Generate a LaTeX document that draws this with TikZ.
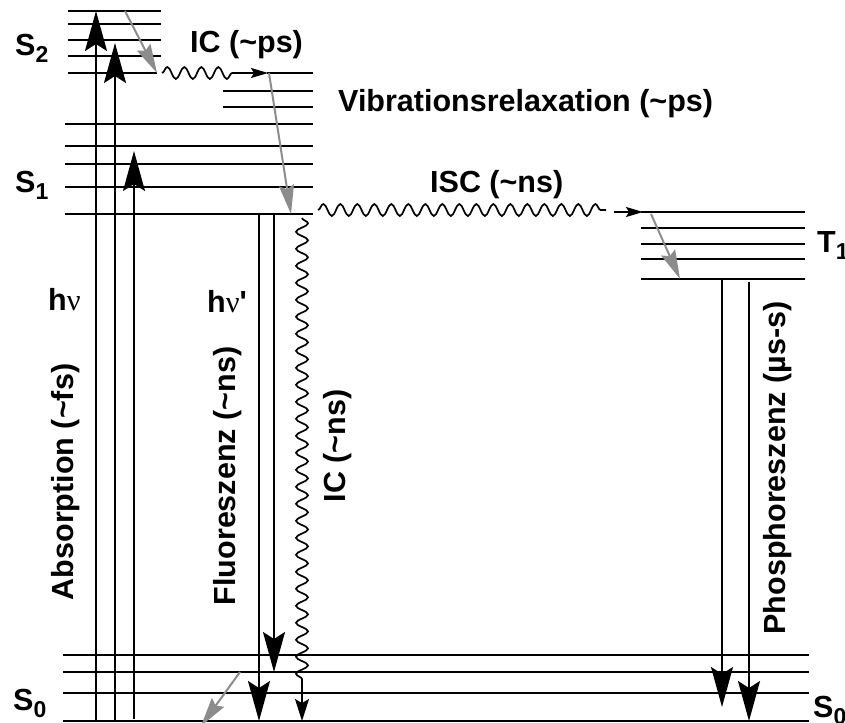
\documentclass[tikz,border=0pt]{standalone}
\usepackage{fontspec}
\setmainfont{Liberation Sans}[Ligatures=TeXOff]
\newfontfamily\grk{Liberation Serif}
\usetikzlibrary{arrows.meta,decorations.pathmorphing}
\definecolor{gr}{HTML}{8C8C8C}
\newcommand\Lvl[2]{#1\raisebox{-7pt}[0pt][0pt]{\fontsize{23}{26}\selectfont #2}}
\begin{document}
\begin{tikzpicture}[x=1pt,y=-1pt,
  lvl/.style={line width=2pt},
  big/.style={line width=1.8pt,-{Stealth[length=40pt,width=22pt,inset=7pt]}},
  small/.style={line width=1.6pt,-{Stealth[length=17pt,width=10pt,inset=3pt]}},
  smallb/.style={line width=1.6pt,-{Stealth[length=22pt,width=14pt,inset=4pt]}},
  gry/.style={draw=gr, line width=2pt, -{Stealth[length=29pt,width=15pt,inset=4pt]}, color=gr},
  wav/.style={line width=1.7pt, decorate, decoration={snake,amplitude=6pt,segment length=17pt}},
  lab/.style={font=\fontsize{30.5}{36}\selectfont\bfseries, inner sep=0pt},
]
\useasboundingbox (0,0) rectangle (845,722);
\clip (0,0) rectangle (845,722);

% ---- S2 levels
\foreach \y in {11,24,40,56} \draw[lvl] (68,\y) -- (161,\y);
\draw[lvl] (68,73) -- (157,73);
% ---- upper vibrational levels of S1
\draw[lvl] (267,73) -- (313,73);
\draw[lvl] (223,91) -- (313,91);
\draw[lvl] (223,107) -- (313,107);
% ---- S1 levels
\foreach \y in {124,146,164,187,214} \draw[lvl] (65,\y) -- (313,\y);
% ---- T1 levels
\foreach \y in {212,228,244,259,279} \draw[lvl] (641,\y) -- (805,\y);
% ---- S0 levels
\foreach \y in {655,672,693,721} \draw[lvl] (63,\y) -- (809,\y);

% ---- named coordinates
\coordinate (a1s) at (96,721);  \coordinate (a1e) at (96,11);
\coordinate (a2s) at (115,721); \coordinate (a2e) at (115,43);
\coordinate (a3s) at (134,719); \coordinate (a3e) at (134,151);
\coordinate (f1s) at (259,214); \coordinate (f1e) at (259,721);
\coordinate (f2s) at (274,214); \coordinate (f2e) at (274,672);
\coordinate (icns) at (302,218); \coordinate (icnm) at (302,686); \coordinate (icne) at (302,721);
\coordinate (p1s) at (722,279); \coordinate (p1e) at (722,707);
\coordinate (p2s) at (749,282); \coordinate (p2e) at (749,721);
\coordinate (g1s) at (125,11);  \coordinate (g1e) at (157,73);
\coordinate (g2s) at (269,73);  \coordinate (g2e) at (291,214);
\coordinate (g3s) at (651,214); \coordinate (g3e) at (680,279);
\coordinate (g4s) at (240,672); \coordinate (g4e) at (201,726);
\coordinate (w1s) at (162,73);  \coordinate (w1m) at (240,73); \coordinate (w1e) at (268,73);
\coordinate (w2s) at (318,210); \coordinate (w2e) at (606,210);
\coordinate (i2s) at (614,212); \coordinate (i2e) at (643,212);

% ---- absorption
\draw[big] (a1s) -- (a1e);
\draw[big] (a2s) -- (a2e);
\draw[big] (a3s) -- (a3e);
% ---- fluorescence
\draw[big] (f1s) -- (f1e);
\draw[big] (f2s) -- (f2e);
% ---- IC (~ns)
\draw[wav] (icns) -- (icnm);
\draw[smallb] (icnm) -- (icne);
% ---- phosphorescence
\draw[big] (p1s) -- (p1e);
\draw[big] (p2s) -- (p2e);
% ---- vibrational relaxation (gray)
\draw[gry] (g1s) -- (g1e);
\draw[gry] (g2s) -- (g2e);
\draw[gry] (g3s) -- (g3e);
\draw[gry] (g4s) -- (g4e);
% ---- IC (~ps)
\draw[wav] (w1s) -- (w1m);
\draw[small] (w1m) -- (w1e);
% ---- ISC
\draw[wav] (w2s) -- (w2e);
\draw[small] (i2s) -- (i2e);

% ---- labels
\node[lab, anchor=base west] (lS2) at (15,56) {\Lvl{S}{2}};
\node[lab, anchor=base west] (lS1) at (15,192) {\Lvl{S}{1}};
\node[lab, anchor=base west] (lS0) at (13,710) {\Lvl{S}{0}};
\node[lab, anchor=base west] (lS0r) at (813,717) {\Lvl{S}{0}};
\node[lab, anchor=base west] (lT1) at (817,252) {\Lvl{T}{1}};
\node[lab, anchor=base west] (lICps) at (190,53) {IC (\textasciitilde ps)};
\node[lab, anchor=base west] (lVib) at (338,112) {Vibrationsrelaxation (\textasciitilde ps)};
\node[lab, anchor=base west] (lISC) at (430,192) {ISC (\textasciitilde ns)};
\node[lab, anchor=base west] (lhv) at (48,310) {h{\grk\mdseries ν}};
\node[lab, anchor=base west] (lhv2) at (207,312) {h{\grk\mdseries ν}'};
\node[lab, rotate=90] (lAbs) at (66,482) {Absorption (\textasciitilde fs)};
\node[lab, rotate=90] (lFl) at (228,476) {Fluoreszenz (\textasciitilde ns)};
\node[lab, rotate=90] (lICns) at (338,446) {IC (\textasciitilde ns)};
\node[lab, rotate=90] (lPh) at (778,468) {Phosphoreszenz (µs-s)};
\end{tikzpicture}
\end{document}
